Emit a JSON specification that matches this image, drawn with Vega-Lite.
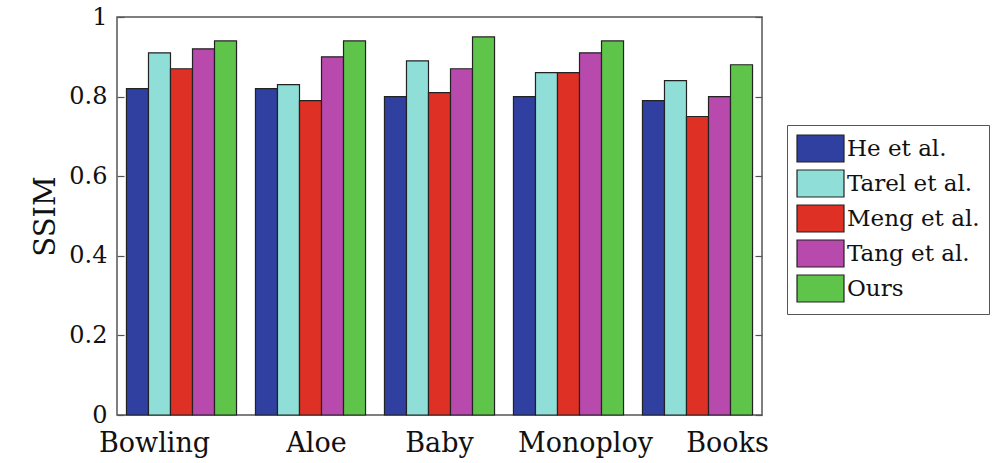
{
  "$schema": "https://vega.github.io/schema/vega-lite/v6.json",
  "width": 645,
  "height": 398,
  "autosize": "none",
  "padding": {"left": 117, "top": 17, "right": 238, "bottom": 48},
  "background": "white",
  "config": {
    "font": "DejaVu Serif",
    "view": {"stroke": "#555", "strokeWidth": 1.5},
    "axis": {"labelFont": "DejaVu Serif", "titleFont": "DejaVu Serif", "labelColor": "#111", "titleColor": "#111", "domain": false, "grid": false, "tickColor": "#555", "tickWidth": 1.2},
    "legend": {"labelFont": "DejaVu Serif"}
  },
  "data": {"values": [
    {"scene": "Bowling", "method": "He et al.", "ssim": 0.82},
    {"scene": "Bowling", "method": "Tarel et al.", "ssim": 0.91},
    {"scene": "Bowling", "method": "Meng et al.", "ssim": 0.87},
    {"scene": "Bowling", "method": "Tang et al.", "ssim": 0.92},
    {"scene": "Bowling", "method": "Ours", "ssim": 0.94},
    {"scene": "Aloe", "method": "He et al.", "ssim": 0.82},
    {"scene": "Aloe", "method": "Tarel et al.", "ssim": 0.83},
    {"scene": "Aloe", "method": "Meng et al.", "ssim": 0.79},
    {"scene": "Aloe", "method": "Tang et al.", "ssim": 0.90},
    {"scene": "Aloe", "method": "Ours", "ssim": 0.94},
    {"scene": "Baby", "method": "He et al.", "ssim": 0.80},
    {"scene": "Baby", "method": "Tarel et al.", "ssim": 0.89},
    {"scene": "Baby", "method": "Meng et al.", "ssim": 0.81},
    {"scene": "Baby", "method": "Tang et al.", "ssim": 0.87},
    {"scene": "Baby", "method": "Ours", "ssim": 0.95},
    {"scene": "Monoploy", "method": "He et al.", "ssim": 0.80},
    {"scene": "Monoploy", "method": "Tarel et al.", "ssim": 0.86},
    {"scene": "Monoploy", "method": "Meng et al.", "ssim": 0.86},
    {"scene": "Monoploy", "method": "Tang et al.", "ssim": 0.91},
    {"scene": "Monoploy", "method": "Ours", "ssim": 0.94},
    {"scene": "Books", "method": "He et al.", "ssim": 0.79},
    {"scene": "Books", "method": "Tarel et al.", "ssim": 0.84},
    {"scene": "Books", "method": "Meng et al.", "ssim": 0.75},
    {"scene": "Books", "method": "Tang et al.", "ssim": 0.80},
    {"scene": "Books", "method": "Ours", "ssim": 0.88}
  ]},
  "encoding": {
    "x": {
      "field": "scene", "type": "nominal", "sort": null,
      "scale": {"paddingInner": 0, "paddingOuter": 0},
      "axis": {
        "title": null, "labelAngle": 0, "labelFontSize": 27, "labelPadding": 15, "ticks": false,
        "labelOffset": {"expr": "datum.value === 'Bowling' ? -27 : datum.value === 'Aloe' ? 6 : datum.value === 'Monoploy' ? 17 : datum.value === 'Books' ? 30 : 0"}
      }
    },
    "xOffset": {
      "field": "method", "type": "nominal", "sort": ["He et al.", "Tarel et al.", "Meng et al.", "Tang et al.", "Ours"],
      "scale": {"paddingInner": 0, "paddingOuter": 0.43}
    },
    "y": {
      "field": "ssim", "type": "quantitative",
      "scale": {"domain": [0, 1], "nice": false, "zero": true}
    }
  },
  "layer": [
    {
      "mark": {"type": "bar", "stroke": "#222", "strokeWidth": 1.2},
      "encoding": {
        "y": {"field": "ssim", "type": "quantitative", "scale": {"domain": [0, 1], "nice": false},
          "axis": {"title": "SSIM", "titleFontSize": 29, "titleFontWeight": "normal", "titlePadding": 8, "labelFontSize": 24, "values": [0, 0.2, 0.4, 0.6, 0.8, 1], "tickSize": -7, "labelPadding": 17, "labelOverlap": false, "labelFlush": false, "labelExpr": "datum.value == 0 ? '0' : datum.value == 1 ? '1' : format(datum.value, '.1f')"}},
        "fill": {
          "field": "method", "type": "nominal",
          "sort": ["He et al.", "Tarel et al.", "Meng et al.", "Tang et al.", "Ours"],
          "scale": {"domain": ["He et al.", "Tarel et al.", "Meng et al.", "Tang et al.", "Ours"], "range": ["#2f40a0", "#8fded8", "#de3024", "#b849ad", "#5ec44a"]},
          "legend": {
            "title": null, "orient": "none", "legendX": 670, "legendY": 108,
            "labelFontSize": 23, "labelColor": "#111",
            "symbolType": "M-1.74,-1H1.74V1H-1.74Z", "symbolSize": 729, "symbolStrokeColor": "#222", "symbolStrokeWidth": 1.2,
            "symbolOffset": 10,
            "rowPadding": 2, "labelOffset": 12,
            "strokeColor": "#555", "padding": 9, "fillColor": "white"
          }
        }
      }
    },
    {
      "mark": {"type": "bar", "opacity": 0},
      "encoding": {
        "y": {"field": "ssim", "type": "quantitative", "scale": {"domain": [0, 1], "nice": false},
          "axis": {"orient": "right", "title": null, "labels": false, "values": [0, 0.2, 0.4, 0.6, 0.8, 1], "tickSize": -7}}
      }
    }
  ],
  "resolve": {"axis": {"y": "independent"}}
}
